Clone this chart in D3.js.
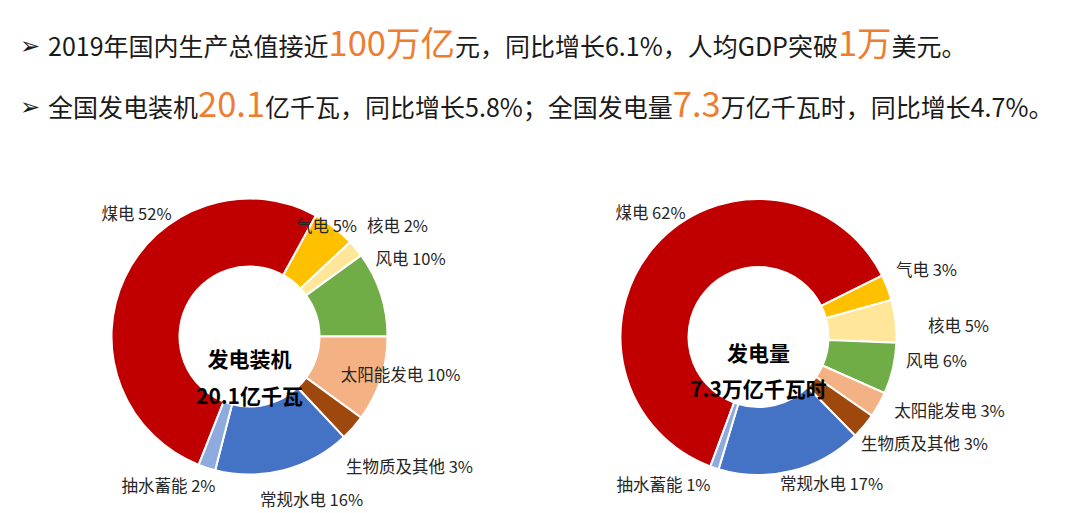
<!DOCTYPE html>
<html><head><meta charset="utf-8">
<script src="https://cdn.jsdelivr.net/npm/d3@7/dist/d3.min.js"></script>
<style>
html,body{margin:0;padding:0;background:#fff;}
svg{display:block;font-family:"Noto Sans CJK SC","Noto Sans",sans-serif;}
</style></head>
<body>
<svg id="chart" width="1080" height="513"></svg>
<script>
// ---- data ----
const categories = ["煤电","气电","核电","风电","太阳能发电","生物质及其他","常规水电","抽水蓄能"];
const capacityShare = [52,5,2,10,10,3,16,2];     // 发电装机 %
const generationShare = [62,3,5,6,3,3,17,1];     // 发电量 %
const sliceColors = ["#C00000","#FFC000","#FFE699","#70AD47","#F4B183","#9E480E","#4472C4","#8FAADC"];
const capacityTitle = ["发电装机","20.1亿千瓦"];
const generationTitle = ["发电量","7.3万亿千瓦时"];
const headline1 = [["2019年国内生产总值接近",0],["100万亿",1],["元，同比增长6.1%，人均GDP突破",0],["1万",1],["美元。",0]];
const headline2 = [["全国发电装机",0],["20.1",1],["亿千瓦，同比增长5.8%；全国发电量",0],["7.3",1],["万亿千瓦时，同比增长4.7%。",0]];

// ---- layout ----
const svg = d3.select("#chart");
const orange = "#ED7D31", dark = "#1A1A1A";

function headline(segs, y){
  svg.append("text").attr("x",20).attr("y",y-2).attr("font-family","DejaVu Sans")
     .attr("font-size",24).attr("fill",dark).text("➢");
  const t = svg.append("text").attr("x",48).attr("y",y).attr("fill",dark);
  segs.forEach(([s,hi])=>{
    t.append("tspan").attr("font-size",hi?34.5:25).attr("fill",hi?orange:dark).text(s);
  });
}
headline(headline1, 56);
headline(headline2, 117);

// label offsets relative to donut centre (layout only)
const capLabelPos = [[-113,-124],[77,-112],[148,-112],[161,-79],[151,37],[160,129],[62,162],[-81,148]];
const genLabelPos = [[-108,-125],[168,-68],[200,-12],[178,23],[191,73],[166,106],[73,146],[-95,147]];

function donut(values, cx, cy, startDeg, title, labelPos){
  const outerR = 138, innerR = 70;
  const start = startDeg*Math.PI/180;
  const pie = d3.pie().sort(null).value(d=>d).startAngle(start).endAngle(start+2*Math.PI);
  const arc = d3.arc().innerRadius(innerR).outerRadius(outerR);
  const g = svg.append("g").attr("transform",`translate(${cx},${cy})`);
  g.selectAll("path").data(pie(values)).join("path")
    .attr("d",arc).attr("fill",(d,i)=>sliceColors[i])
    .attr("stroke","#fff").attr("stroke-width",2);
  g.selectAll("text.lbl").data(values).join("text").attr("class","lbl")
    .attr("x",(d,i)=>labelPos[i][0]).attr("y",(d,i)=>labelPos[i][1])
    .attr("text-anchor","middle").attr("dominant-baseline","central")
    .attr("font-size",16.5).attr("fill","#262626")
    .text((d,i)=>`${categories[i]} ${d}%`);
  return g;
}
const g1 = donut(capacityShare, 249.5, 336.5, 201.6, capacityTitle, capLabelPos);
const g2 = donut(generationShare, 758.5, 337, 200.4, generationTitle, genLabelPos);

function titles(g, lines, y1, y2){
  g.append("text").attr("x",0).attr("y",y1).attr("text-anchor","middle").attr("dominant-baseline","central")
   .attr("font-size",21).attr("font-weight","bold").attr("fill","#000").text(lines[0]);
  g.append("text").attr("x",0).attr("y",y2).attr("text-anchor","middle").attr("dominant-baseline","central")
   .attr("font-size",21).attr("font-weight","bold").attr("fill","#000").text(lines[1]);
}
titles(g1, capacityTitle, 21, 58);
titles(g2, generationTitle, 15, 51);
</script>
</body></html>
